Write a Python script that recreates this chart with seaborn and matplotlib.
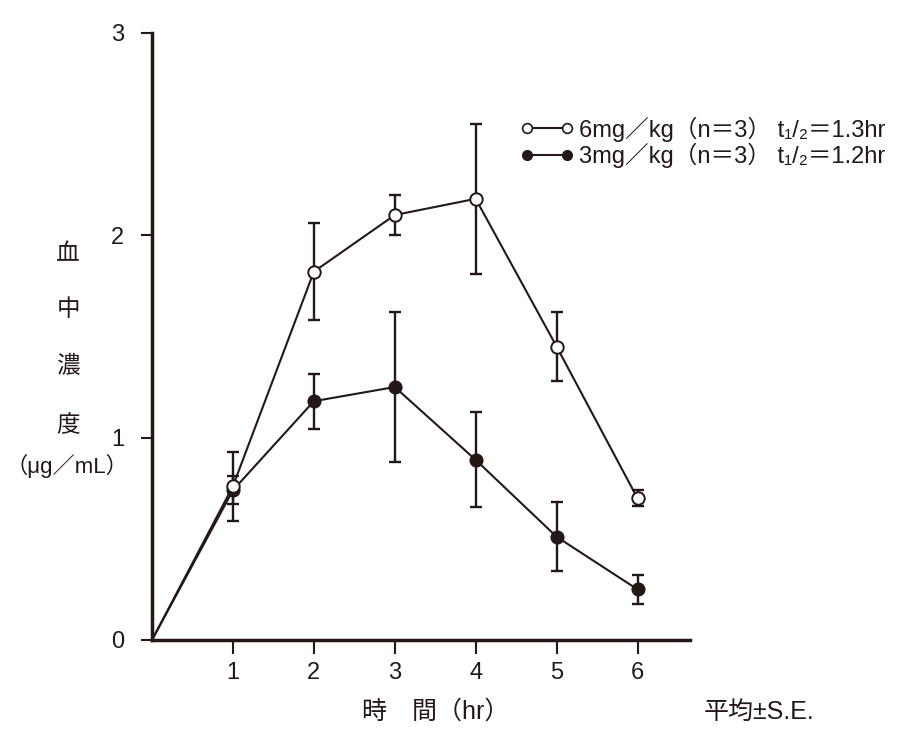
import numpy as np
import pandas as pd
import matplotlib.pyplot as plt
import seaborn as sns

# ── data ─────────────────────────────────────────────────────
hours = [0, 1, 2, 3, 4, 5, 6]
conc_6mg = [0, 0.76, 1.82, 2.10, 2.18, 1.45, 0.70]
se_6mg = [0, 0.17, 0.24, 0.10, 0.37, 0.17, 0.04]
conc_3mg = [0, 0.74, 1.18, 1.25, 0.89, 0.51, 0.25]
se_3mg = [0, 0.07, 0.135, 0.37, 0.235, 0.17, 0.07]

x_ticks = [1, 2, 3, 4, 5, 6]
y_ticks = [0, 1, 2, 3]

label_6mg = "6mg／kg（n＝3） t₁/₂＝1.3hr"
label_3mg = "3mg／kg（n＝3） t₁/₂＝1.2hr"

ink = '#231815'

sns.set_style('white')
plt.rcParams['font.family'] = ['Liberation Sans', 'Noto Sans CJK JP', 'DejaVu Sans']

df6 = pd.DataFrame({'hr': hours, 'conc': conc_6mg, 'se': se_6mg})
df3 = pd.DataFrame({'hr': hours, 'conc': conc_3mg, 'se': se_3mg})

fig = plt.figure(figsize=(9.23, 7.44), dpi=100)
ax = fig.add_axes([0.1647, 0.1398, 0.583, 0.816])

# lines (start at origin, no marker there)
sns.lineplot(data=df3, x='hr', y='conc', color=ink, lw=1.5, ax=ax, zorder=2)
sns.lineplot(data=df6, x='hr', y='conc', color=ink, lw=1.5, ax=ax, zorder=2)

# error bars
for d in (df3, df6):
    pts = d[d['hr'] > 0]
    ax.errorbar(pts['hr'], pts['conc'], yerr=pts['se'], fmt='none',
                ecolor=ink, elinewidth=1.7, capsize=4.5, capthick=1.7, zorder=1)

# markers
pts3 = df3[df3['hr'] > 0]
pts6 = df6[df6['hr'] > 0]
sns.scatterplot(data=pts3, x='hr', y='conc', color=ink, edgecolor=ink,
                s=80, linewidth=1.2, ax=ax, zorder=3)
sns.scatterplot(data=pts6, x='hr', y='conc', color='white', edgecolor=ink,
                s=80, linewidth=1.4, ax=ax, zorder=4)

ax.set_xlim(0, 6.65)
ax.set_ylim(0, 3)
ax.set_xticks(x_ticks)
ax.set_yticks(y_ticks)
ax.set_xticklabels([str(t) for t in x_ticks])
ax.set_yticklabels([str(t) for t in y_ticks])
ax.set_xlabel('')
ax.set_ylabel('')
ax.tick_params(axis='x', direction='out', length=10, width=1.5, colors=ink,
               labelsize=17, pad=6, bottom=True)
ax.tick_params(axis='y', direction='out', length=8, width=1.5, colors=ink,
               labelsize=17, pad=12, left=True)

for side in ('top', 'right'):
    ax.spines[side].set_visible(False)
for side in ('left', 'bottom'):
    ax.spines[side].set_linewidth(2.5)
    ax.spines[side].set_color(ink)

# legend
h6 = plt.Line2D([], [], color=ink, lw=1.5, marker='o', markersize=7,
                markerfacecolor='white', markeredgecolor=ink, markeredgewidth=1.2)
h3 = plt.Line2D([], [], color=ink, lw=1.5, marker='o', markersize=7,
                markerfacecolor=ink, markeredgecolor=ink)
leg = ax.legend([h6, h3], [label_6mg, label_3mg], loc='center left',
                bbox_to_anchor=(0.684, 0.82), frameon=False, fontsize=17,
                numpoints=2, handlelength=2.3, handletextpad=0.2,
                labelspacing=0.05, borderaxespad=0, borderpad=0)
for t in leg.get_texts():
    t.set_color(ink)

# y axis label, vertical characters
for ch, yy in zip(['血', '中', '濃', '度'], [0.658, 0.583, 0.507, 0.428]):
    fig.text(0.074, yy, ch, ha='center', va='center', fontsize=17, color=ink)
fig.text(0.072, 0.374, '（μg／mL）', ha='center', va='center',
         fontsize=16, color=ink)

# x axis label
fig.text(0.472, 0.043, '時　間（hr）', ha='center', va='center',
         fontsize=18, color=ink)
fig.text(0.822, 0.043, '平均±S.E.', ha='center', va='center',
         fontsize=18, color=ink)

fig.savefig('out.png', dpi=100)
